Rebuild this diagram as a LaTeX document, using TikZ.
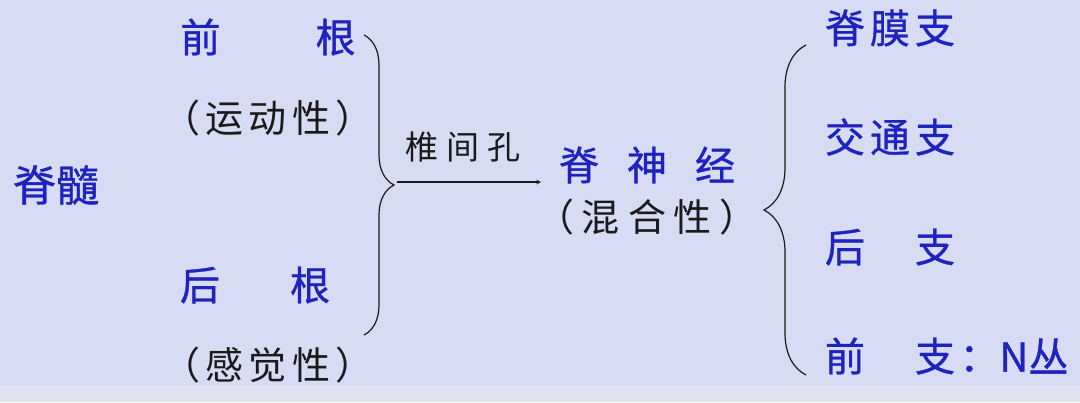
\documentclass[tikz,border=0pt]{standalone}
\usepackage{fontspec}
\newfontfamily\cjk{Noto Sans CJK SC}
\newfontfamily\cjkb[FakeBold=0.8]{Noto Sans CJK SC}
\usetikzlibrary{positioning,decorations.pathreplacing}
\definecolor{bgblue}{HTML}{D7DBF3}
\definecolor{bgband}{HTML}{E0E2EE}
\definecolor{inkblue}{HTML}{1E22BE}
\definecolor{inkdark}{HTML}{1A1A1A}
\tikzset{
  brace line/.style={draw=inkdark,line width=1.2pt,decorate,decoration={brace,amplitude=#1}},
  dark text/.style={text=inkdark,font=\cjk\fontsize{38}{38}\selectfont}
}
\begin{document}
\begin{tikzpicture}
  [x=1pt,y=-1pt,every node/.style={inner sep=0pt,text=inkblue,font=\cjkb\fontsize{40}{40}\selectfont}]
  \useasboundingbox (0,0) rectangle (1080,402);
  \fill[bgblue] (0,0) rectangle (1080,386);
  \fill[bgband] (0,386) rectangle (1080,402);

  \node[font=\cjkb\fontsize{43}{43}\selectfont] (jisui) at (56,185) {脊髓};
  \node[text width=175pt] (qiangen) at (268,37) {前\hfill 根};
  \node[dark text,text width=212pt] (yundong) at (268,118) {（\hfill 运\hfill 动\hfill 性\hfill ）};
  \node[text width=150pt] (hougen) at (255,285) {后\hfill 根};
  \node[dark text,text width=212pt] (ganjue) at (268,365) {（\hfill 感\hfill 觉\hfill 性\hfill ）};

  \coordinate (b1top) at (364,35);
  \coordinate (b1bot) at (364,335);
  \coordinate (holein) at (397,182);
  \coordinate (holeout) at (541,182);
  \node[dark text,text width=115pt,font=\cjk\fontsize{33}{33}\selectfont] (zjk) at (463,147) {椎\hfill 间\hfill 孔};

  \node[text width=176pt] (jsj) at (647,165) {脊\hfill 神\hfill 经};
  \node[dark text,text width=222pt] (hunhe) at (647,217) {（\hfill 混\hfill 合\hfill 性\hfill ）};

  \coordinate (b2top) at (806,45);
  \coordinate (b2bot) at (806,375);
  \node[text width=130pt] (jmz) at (890,28) {脊\hfill 膜\hfill 支};
  \node[text width=130pt] (jtz) at (890,137) {交\hfill 通\hfill 支};
  \node[text width=130pt] (hz) at (890,247) {后\hfill 支};
  \node[text width=130pt] (qz) at (890,356) {前\hfill 支};
  \node[right=4pt of qz] (qzn) {：N丛};

  \path[brace line=30pt] (b1top) -- (b1bot);
  \path[brace line=42pt] (b2bot) -- (b2top);
  \draw[->,>=stealth,line width=1.1pt,inkdark] (holein) -- (holeout);

\end{tikzpicture}
\end{document}
